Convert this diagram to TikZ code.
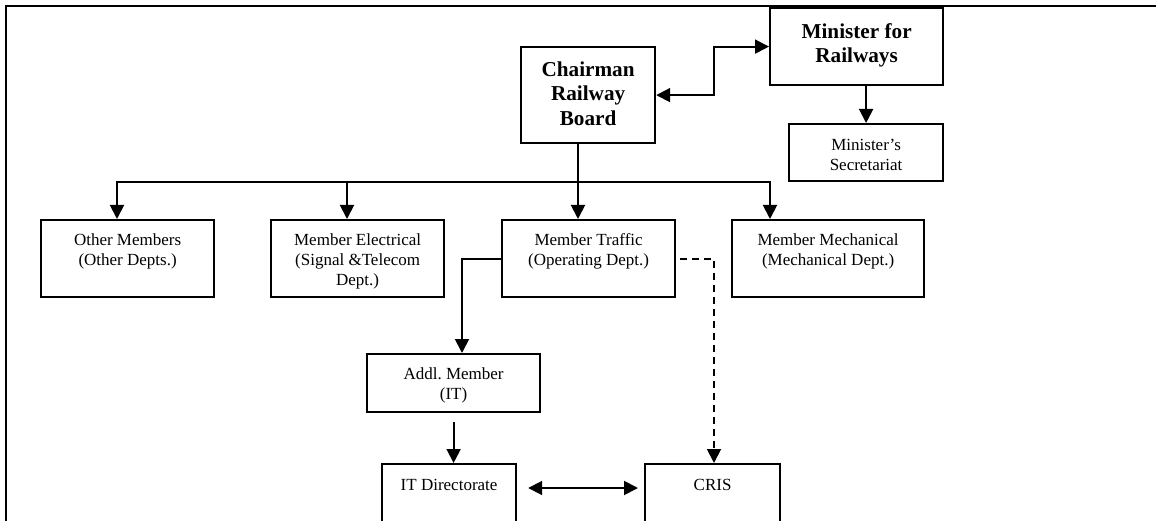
\documentclass[tikz,border=0pt]{standalone}
\usepackage{fontspec}
\setmainfont{Liberation Serif}
\usetikzlibrary{calc, positioning, arrows.meta}

\begin{document}
\begin{tikzpicture}[
	x=1pt, y=-1pt,
	>={Triangle[length=14pt, width=14pt]},
	box/.style={
		draw=black, line width=2.2pt, inner sep=0pt, anchor=north west,
		align=center, font=\fontsize{17}{19.7}\selectfont
	},
	head/.style={box, font=\fontsize{21.2}{24.5}\selectfont\bfseries},
	link/.style={line width=1.9pt, color=black},
	arr/.style={->, link},
	]
	\useasboundingbox (0,0) rectangle (1156,521);
	
	% ── outer frame ─────────────────────────────────────────────────
	\draw[line width=2.2pt] (1160,6) -- (6,6) -- (6,530);
	
	% ── top ─────────────────────────────────────────────────────────
	\node[head, minimum width=134pt, text height=78pt, text depth=18pt] (chair) at (520,46) {Chairman\\Railway\\Board};
	\node[head, minimum width=173pt, text height=54.5pt, text depth=22.5pt] (mfr) at (769,7) {Minister for\\Railways};
	\node[box, minimum width=154pt, text height=46.2pt, text depth=10.8pt] (msec) at (788,123) {Minister’s\\Secretariat};
	
	\draw[arr, <->] (chair.east) -- ++(58,0) |- (mfr.west);
	\draw[arr] (mfr.south -| msec.north) -- (msec.north);
	
	% ── members ─────────────────────────────────────────────────────
	\node[box, minimum width=173pt, text height=45.2pt, text depth=31.8pt] (othm) at (40,219) {Other Members\\(Other Depts.)};
	\node[box, minimum width=173pt, text height=64.9pt, text depth=12.1pt] (melec) at (270,219) {Member Electrical\\(Signal \&Telecom\\Dept.)};
	\node[box, minimum width=173pt, text height=45.2pt, text depth=31.8pt] (mtraf) at (501,219) {Member Traffic\\(Operating Dept.)};
	\node[box, minimum width=192pt, text height=45.2pt, text depth=31.8pt] (mmech) at (731,219) {Member Mechanical\\(Mechanical Dept.)};
	
	\coordinate (split) at ($(chair.south west)+(58,38)$);
	\draw[link] (chair.south -| split) -- (split);
	\draw[arr] (split) -| ($(othm.north west)+(77,0)$);
	\draw[arr] (split) -| ($(melec.north west)+(77,0)$);
	\draw[arr] (split) -- ($(mtraf.north west)+(77,0)$);
	\draw[arr] (split) -| ($(mmech.north west)+(39,0)$);
	
	% ── IT ──────────────────────────────────────────────────────────
	\node[box, minimum width=173pt, text height=45.2pt, text depth=12.8pt] (addl) at (366,353) {Addl.\ Member\\(IT)};
	\node[box, minimum width=134pt, text height=26.5pt, text depth=58pt] (itdir) at (381,463) {IT Directorate};
	\node[box, minimum width=135pt, text height=26.5pt, text depth=58pt] (cris) at (644,463) {CRIS};
	
	\draw[arr] (mtraf.west) -| ($(addl.north west)+(96,0)$);
	\draw[arr] ($(addl.south)+(0,9)$) -- (addl.south |- itdir.north);
	\draw[arr, <->] ($(itdir.north east)+(11,25)$) -- ($(cris.north west)+(-6,25)$);
	\draw[arr, dash pattern=on 7pt off 5pt, shorten <=4pt] (mtraf.east) -| ($(cris.north west)+(70,0)$);
	
\end{tikzpicture}
\end{document}
